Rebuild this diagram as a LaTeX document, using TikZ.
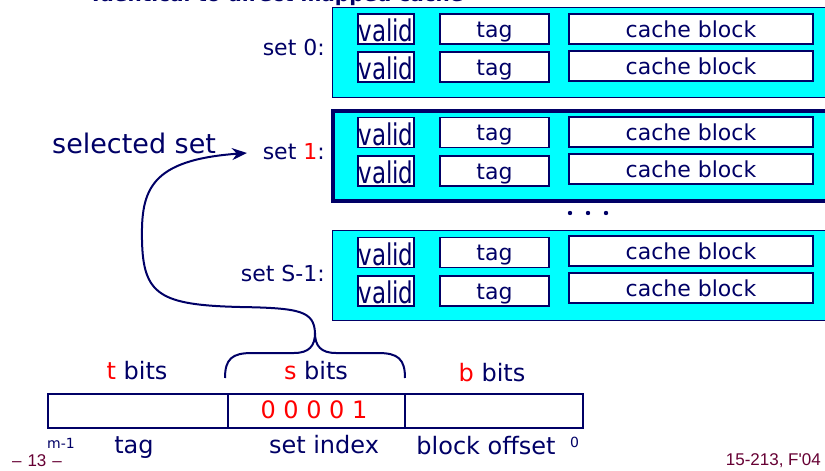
\documentclass[tikz,border=0pt]{standalone}
\usepackage{fontspec}
\setmainfont{DejaVu Sans}
\newfontfamily\footfont{Liberation Sans}
\usetikzlibrary{arrows.meta}
\definecolor{navy}{RGB}{0,0,102}
\definecolor{cyanfill}{RGB}{0,255,255}
\definecolor{footc}{RGB}{102,0,51}
\newcommand{\tallvalid}{\scalebox{1.0}[1.3]{valid}}
\begin{document}
\begin{tikzpicture}[x=1pt,y=-1pt,
  setbox/.style={draw=navy, fill=cyanfill, line width=1.3pt, anchor=north west, minimum height=90pt, minimum width=500pt, inner sep=0pt},
  selbox/.style={setbox, line width=3.5pt},
  cell/.style={draw=navy, fill=white, line width=1.2pt, inner sep=0pt, text=navy, font=\fontsize{22}{24}\selectfont, minimum height=30pt, text height=20pt, text depth=4pt},
  validcell/.style={cell, minimum width=56pt, font=\fontsize{23}{25}\selectfont, text height=25pt, text depth=0pt},
  tagcell/.style={cell, minimum width=109pt},
  blockcell/.style={cell, minimum width=244pt},
  lbl/.style={text=navy, font=\fontsize{22}{26}\selectfont, inner sep=0pt},
  fldlbl/.style={text=navy, font=\fontsize{24}{28}\selectfont, inner sep=0pt},
  biglbl/.style={text=navy, font=\fontsize{27}{31}\selectfont, inner sep=0pt},
  small/.style={text=navy, font=\fontsize{14}{16}\selectfont, inner sep=0pt},
  field/.style={draw=navy, line width=2.4pt, anchor=north west, minimum height=34pt, inner sep=0pt},
  foot/.style={text=footc, font=\footfont\fontsize{17}{20}\selectfont, inner sep=0pt},
  conn/.style={draw=navy, line width=2pt}
]
\useasboundingbox (0,0) rectangle (825,471);
\clip (0,0) rectangle (825,471);

% clipped title
\node[anchor=base west, text=navy, font=\bfseries\fontsize{20}{24}\selectfont, inner sep=0pt] (title) at (92,1.5) {Identical to direct mapped cache};

% set boxes
\node[setbox] (set0) at (332,7) {};
\node[selbox] (set1) at (331,109) {};
\node[setbox] (setS) at (332,230) {};

% set 0 rows
\node[validcell] (v0a) at (386,29) {\tallvalid};
\node[tagcell]   (t0a) at (494.5,29) {tag};
\node[blockcell] (b0a) at (691,29) {cache block};
\node[validcell] (v0b) at (386,67) {\tallvalid};
\node[tagcell]   (t0b) at (494.5,67) {tag};
\node[blockcell] (b0b) at (691,66) {cache block};

% set 1 rows
\node[validcell] (v1a) at (386,132.5) {\tallvalid};
\node[tagcell]   (t1a) at (494.5,132.5) {tag};
\node[blockcell] (b1a) at (691,132) {cache block};
\node[validcell] (v1b) at (386,171) {\tallvalid};
\node[tagcell]   (t1b) at (494.5,171) {tag};
\node[blockcell] (b1b) at (691,169) {cache block};

% set S-1 rows
\node[validcell] (vSa) at (386,252.5) {\tallvalid};
\node[tagcell]   (tSa) at (494.5,252.5) {tag};
\node[blockcell] (bSa) at (691,251) {cache block};
\node[validcell] (vSb) at (386,291) {\tallvalid};
\node[tagcell]   (tSb) at (494.5,291) {tag};
\node[blockcell] (bSb) at (691,288) {cache block};

% dots
\fill[navy] (570,213) circle (2.2pt) (588,213) circle (2.2pt) (606,213) circle (2.2pt);

% set labels
\node[lbl, anchor=base east] (l0) at (325,55) {set 0:};
\node[lbl, anchor=base east] (l1) at (325,159) {set {\color{red}1}:};
\node[lbl, anchor=base east] (lS) at (325,281) {set S-1:};

\node[biglbl, anchor=base west] (sel) at (52,153) {selected set};
\coordinate (arrend) at (247,153);

% address fields
\node[field, minimum width=180pt] (ftag) at (47,393) {};
\node[field, minimum width=177pt] (fidx) at (227,393) {};
\node[field, minimum width=178pt] (foff) at (404,393) {};
\node[fldlbl, text=red, anchor=base] (bitsval) at (314,418) {0 0 0 0 1};

% labels above
\node[fldlbl, anchor=base] (tb) at (137,379) {{\color{red}t} bits};
\node[fldlbl, anchor=base] (sb) at (316,379) {{\color{red}s} bits};
\node[fldlbl, anchor=base] (bb) at (492,381) {{\color{red}b} bits};

% labels below
\node[fldlbl, anchor=base] (ltag) at (134,453) {tag};
\node[fldlbl, anchor=base] (lidx) at (324,453) {set index};
\node[fldlbl, anchor=base] (loff) at (486,454) {block offset};
\node[small, anchor=base west] (msb) at (47,448) {m-1};
\node[small, anchor=base west] (lsb) at (570,447) {0};

% brace
\coordinate (bracetip) at (315,333);
\draw[conn] (225,378) .. controls (225,359) and (232,353) .. (252,353) -- (294,353)
  .. controls (309,353) and (315,346) .. (bracetip);
\draw[conn] (405,378) .. controls (405,359) and (398,353) .. (378,353) -- (336,353)
  .. controls (321,353) and (315,346) .. (bracetip);

% selection arrow
\draw[conn, -{Stealth[length=15pt,width=12pt]}] (bracetip)
  .. controls (314,311) and (300,308) .. (240,307)
  .. controls (160,305) and (143,295) .. (142,240)
  .. controls (141,190) and (150,160) .. (arrend);

% footer
\node[foot, anchor=base] (pg) at (37,466) {–\hspace{6pt}13\hspace{6pt}–};
\node[foot, anchor=base east] (course) at (821,465) {15-213, F'04};
\end{tikzpicture}
\end{document}
